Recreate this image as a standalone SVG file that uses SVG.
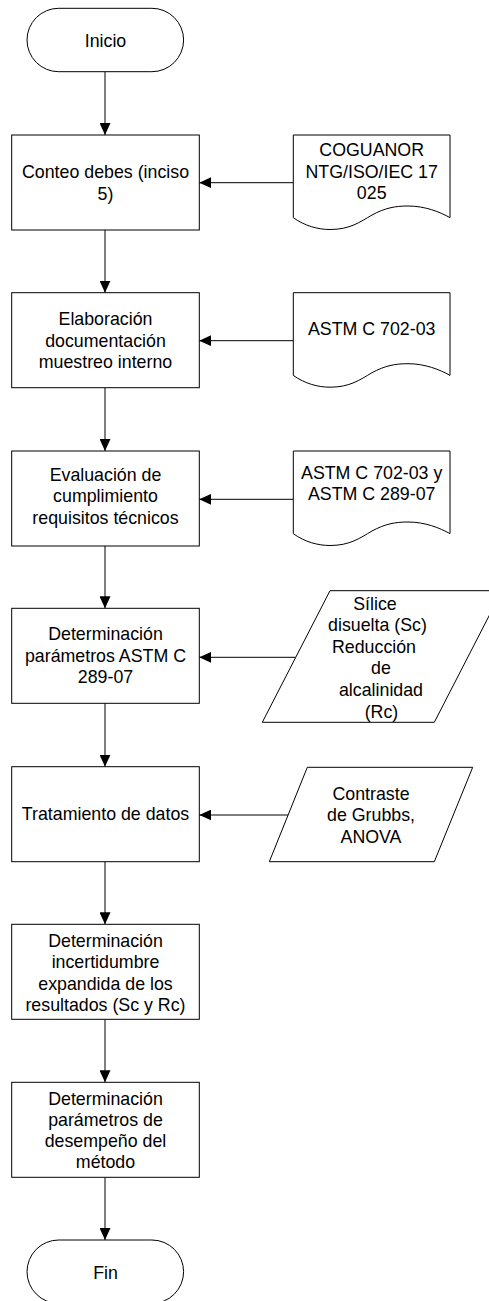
<svg xmlns="http://www.w3.org/2000/svg" width="489" height="1301" viewBox="0 0 489 1301">
<style>
  .shape { fill: #fff; stroke: #000; stroke-width: 1; }
  .conn { fill: none; stroke: #000; stroke-width: 1; }
  text { font-family: "Liberation Sans", Arial, sans-serif; font-size: 17.8px; fill: #000; text-anchor: middle; }
</style>
<defs>
  <marker id="arr" markerUnits="userSpaceOnUse" markerWidth="12" markerHeight="11" refX="12" refY="5.5" orient="auto">
    <path d="M0,0 L12,5.5 L0,11 z" fill="#000"/>
  </marker>
</defs>
<rect width="489" height="1301" fill="#fff"/>

<g id="connectors">
  <line class="conn" x1="105" y1="71.7" x2="105" y2="135" marker-end="url(#arr)"/>
  <line class="conn" x1="105" y1="230" x2="105" y2="292.7" marker-end="url(#arr)"/>
  <line class="conn" x1="105" y1="387.7" x2="105" y2="451" marker-end="url(#arr)"/>
  <line class="conn" x1="105" y1="546" x2="105" y2="608.3" marker-end="url(#arr)"/>
  <line class="conn" x1="105" y1="703.3" x2="105" y2="766.7" marker-end="url(#arr)"/>
  <line class="conn" x1="105" y1="861.7" x2="105" y2="924.3" marker-end="url(#arr)"/>
  <line class="conn" x1="105" y1="1019.3" x2="105" y2="1082.3" marker-end="url(#arr)"/>
  <line class="conn" x1="105" y1="1177.3" x2="105" y2="1240" marker-end="url(#arr)"/>
  <line class="conn" x1="293.3" y1="182.7" x2="199.3" y2="182.7" marker-end="url(#arr)"/>
  <line class="conn" x1="293.3" y1="340.7" x2="199.3" y2="340.7" marker-end="url(#arr)"/>
  <line class="conn" x1="293.3" y1="499.3" x2="199.3" y2="499.3" marker-end="url(#arr)"/>
  <line class="conn" x1="295.5" y1="657.3" x2="199.3" y2="657.3" marker-end="url(#arr)"/>
  <line class="conn" x1="288.5" y1="815" x2="199.3" y2="815" marker-end="url(#arr)"/>
</g>

<g id="inicio">
  <rect class="shape" x="27" y="8.3" width="156.6" height="63.4" rx="31.7" ry="31.7"/>
  <text x="105.5" y="46.5">Inicio</text>
</g>

<g id="conteo">
  <rect class="shape" x="11.7" y="135" width="187.6" height="95"/>
  <text x="105.5" y="178.1">Conteo debes (inciso</text>
  <text x="105.5" y="199.5">5)</text>
</g>

<g id="doc-coguanor">
  <path class="shape" d="M293.3,135 H450 V217.7 C440,212 425,206 408,206 C395,206 385,208 372,215 C360,222 350,229.5 330,229.5 C318,229.5 305,226 293.3,217.7 Z"/>
  <text x="371.7" y="156.3">COGUANOR</text>
  <text x="371.7" y="177.7">NTG/ISO/IEC 17</text>
  <text x="371.7" y="199.1">025</text>
</g>

<g id="elaboracion">
  <rect class="shape" x="11.7" y="292.7" width="187.6" height="95"/>
  <text x="105.5" y="325.3">Elaboración</text>
  <text x="105.5" y="346.5">documentación</text>
  <text x="105.5" y="367.9">muestreo interno</text>
</g>

<g id="doc-astm702">
  <path class="shape" d="M293.3,292.7 H450 V375.4 C440,369.7 425,363.7 408,363.7 C395,363.7 385,365.7 372,372.7 C360,379.7 350,387.2 330,387.2 C318,387.2 305,383.7 293.3,375.4 Z"/>
  <text x="371.7" y="334.6">ASTM C 702-03</text>
</g>

<g id="evaluacion">
  <rect class="shape" x="11.7" y="451" width="187.6" height="95"/>
  <text x="105.5" y="481">Evaluación de</text>
  <text x="105.5" y="502.4">cumplimiento</text>
  <text x="105.5" y="523.8">requisitos técnicos</text>
</g>

<g id="doc-astm702-289">
  <path class="shape" d="M293.3,451 H450 V533.7 C440,528 425,522 408,522 C395,522 385,524 372,531 C360,538 350,545.5 330,545.5 C318,545.5 305,542 293.3,533.7 Z"/>
  <text x="371.7" y="479">ASTM C 702-03 y</text>
  <text x="371.7" y="500">ASTM C 289-07</text>
</g>

<g id="determinacion-parametros">
  <rect class="shape" x="11.7" y="608.3" width="187.6" height="95"/>
  <text x="105.5" y="640">Determinación</text>
  <text x="105.5" y="661.8">parámetros ASTM C</text>
  <text x="105.5" y="683.3">289-07</text>
</g>

<g id="datos-silice">
  <path class="shape" d="M330,590.7 H502 L434.3,722.3 H262.3 Z"/>
  <text x="375" y="609.6">Sílice</text>
  <text x="377.5" y="631.2">disuelta (Sc)</text>
  <text x="374" y="652.8">Reducción</text>
  <text x="381" y="674.4">de</text>
  <text x="381" y="696">alcalinidad</text>
  <text x="381.5" y="717.6">(Rc)</text>
</g>

<g id="tratamiento">
  <rect class="shape" x="11.7" y="766.7" width="187.6" height="95"/>
  <text x="105.5" y="820.3">Tratamiento de datos</text>
</g>

<g id="datos-grubbs">
  <path class="shape" d="M307.3,767.3 H472.7 L434.3,861.7 H269.3 Z"/>
  <text x="371" y="799.6">Contraste</text>
  <text x="371" y="821.3">de Grubbs,</text>
  <text x="371" y="843">ANOVA</text>
</g>

<g id="incertidumbre">
  <rect class="shape" x="11.7" y="924.3" width="187.6" height="95"/>
  <text x="105.5" y="946.8">Determinación</text>
  <text x="105.5" y="968.2">incertidumbre</text>
  <text x="105.5" y="989.6">expandida de los</text>
  <text x="105.5" y="1011">resultados (Sc y Rc)</text>
</g>

<g id="desempeno">
  <rect class="shape" x="11.7" y="1082.3" width="187.6" height="95"/>
  <text x="105.5" y="1104.5">Determinación</text>
  <text x="105.5" y="1125.7">parámetros de</text>
  <text x="105.5" y="1147.1">desempeño del</text>
  <text x="105.5" y="1168.3">método</text>
</g>

<g id="fin">
  <rect class="shape" x="27" y="1240" width="156.6" height="63.4" rx="31.7" ry="31.7"/>
  <text x="105.5" y="1278.7">Fin</text>
</g>
</svg>
